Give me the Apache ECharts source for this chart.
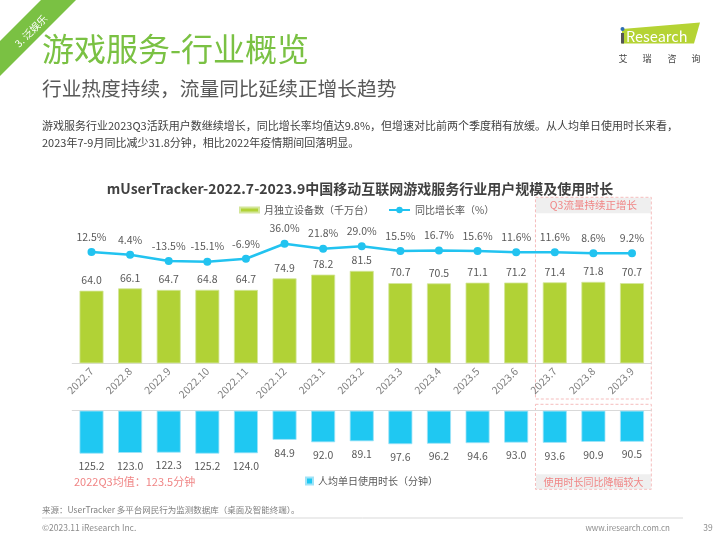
<!DOCTYPE html>
<html><head><meta charset="utf-8">
<script src="https://cdn.jsdelivr.net/npm/echarts@6/dist/echarts.min.js"></script>
<style>html,body{margin:0;padding:0;background:#fff}#c{width:720px;height:540px}</style>
</head><body><div id="c"></div>
<script>
const categories = ['2022.7','2022.8','2022.9','2022.10','2022.11','2022.12','2023.1','2023.2','2023.3','2023.4','2023.5','2023.6','2023.7','2023.8','2023.9'];
const devices = [64.0,66.1,64.7,64.8,64.7,74.9,78.2,81.5,70.7,70.5,71.1,71.2,71.4,71.8,70.7];
const growth = [12.5,4.4,-13.5,-15.1,-6.9,36.0,21.8,29.0,15.5,16.7,15.6,11.6,11.6,8.6,9.2];
const minutes = [125.2,123.0,122.3,125.2,124.0,84.9,92.0,89.1,97.6,96.2,94.6,93.0,93.6,90.9,90.5];
const seriesNames = ['月独立设备数（千万台）','同比增长率（%）','人均单日使用时长（分钟）'];
const chartTitle = 'mUserTracker-2022.7-2023.9中国移动互联网游戏服务行业用户规模及使用时长';
const pageTitle = '游戏服务-行业概览';
const pageSubtitle = '行业热度持续，流量同比延续正增长趋势';
const descLines = ['游戏服务行业2023Q3活跃用户数继续增长，同比增长率均值达9.8%，但增速对比前两个季度稍有放缓。从人均单日使用时长来看，','2023年7-9月同比减少31.8分钟，相比2022年疫情期间回落明显。'];
const noteAvg = '2022Q3均值：123.5分钟';
const boxTopText = 'Q3流量持续正增长';
const boxBottomText = '使用时长同比降幅较大';
const sourceText = '来源：UserTracker 多平台网民行为监测数据库（桌面及智能终端）。';

const FONT = "'Microsoft YaHei','Noto Sans CJK SC','Noto Sans',sans-serif";
const GREEN = '#B1D236', BLUE = '#1FC8F2', LINE = '#22C3F0', PINK = '#F08585', PINKLINE = '#F5BDBD';
const gridLeft = 72.2, gridWidth = 579.1;
const band = gridWidth / categories.length;
const boxL = gridLeft + 12 * band, boxR = gridLeft + 15 * band;

const chart = echarts.init(document.getElementById('c'), null, {renderer: 'canvas'});
function txt(x, y, text, size, fill, opts) {
  opts = opts || {};
  return {type: 'text', x: x, y: y, z: 100, rotation: opts.rotation || 0,
    style: {x: 0, y: 0, text: text, fill: fill,
      font: (opts.weight || 'normal') + ' ' + size + 'px ' + FONT,
      textAlign: opts.align || 'left', align: opts.align || 'left',
      textVerticalAlign: 'middle', verticalAlign: 'middle'}};
}
const graphics = [
  {type: 'polygon', shape: {points: [[41,0],[76,0],[0,76],[0,41]]}, style: {fill: '#7AC143'}},
  txt(31, 31, '3. 泛娱乐', 10, '#fff', {rotation: Math.PI/4, align: 'center'}),
  txt(42, 49, pageTitle, 32, '#7AC143'),
  txt(42, 88.5, pageSubtitle, 19.7, '#595959'),
  txt(42, 126, descLines[0], 11, '#404040'),
  txt(42, 143, descLines[1], 11, '#404040'),
  // logo
  {type: 'polygon', shape: {points: [[622,29],[700,22.5],[694,43.5],[622,43.5]]}, style: {fill: '#B5D334'}},
  {type: 'rect', shape: {x: 621, y: 33, width: 3, height: 10.5}, style: {fill: '#555'}},
  {type: 'circle', shape: {cx: 622.5, cy: 29, r: 2}, style: {fill: '#2E6DB4'}},
  txt(626, 36, 'Research', 14.5, '#fff'),
  txt(623, 59, '艾', 9, '#444', {align: 'center'}),
  txt(647, 59, '瑞', 9, '#444', {align: 'center'}),
  txt(672, 59, '咨', 9, '#444', {align: 'center'}),
  txt(696, 59, '询', 9, '#444', {align: 'center'}),
  // highlight boxes
  {type: 'rect', shape: {x: boxL + 0.5, y: 197.8, width: boxR - boxL - 1, height: 15.5}, style: {fill: '#EFEFEF'}},
  {type: 'rect', shape: {x: boxL, y: 197.3, width: boxR - boxL, height: 201.7}, style: {fill: null, stroke: PINKLINE, lineWidth: 1, lineDash: [3, 2]}},
  txt((boxL + boxR) / 2, 205.5, boxTopText, 10.5, PINK, {align: 'center'}),
  {type: 'rect', shape: {x: boxL + 0.5, y: 474.3, width: boxR - boxL - 1, height: 15}, style: {fill: '#EFEFEF'}},
  {type: 'rect', shape: {x: boxL, y: 404.3, width: boxR - boxL, height: 85}, style: {fill: null, stroke: PINKLINE, lineWidth: 1, lineDash: [3, 2]}},
  txt((boxL + boxR) / 2, 482, boxBottomText, 10, PINK, {align: 'center'}),
  txt(74, 482.3, noteAvg, 11, PINK),
  // footer
  txt(42, 510, sourceText, 8.5, '#7F7F7F'),
  {type: 'line', shape: {x1: 42, y1: 518, x2: 683, y2: 518}, style: {stroke: '#D9D9D9', lineWidth: 1}},
  txt(42, 528, '©2023.11 iResearch Inc.', 8.5, '#8C8C8C'),
  txt(670, 528, 'www.iresearch.com.cn', 8, '#8C8C8C', {align: 'right'}),
  txt(708, 528, '39', 8.5, '#8C8C8C', {align: 'center'})
];

const labelStyle = {color: '#595959', fontSize: 10.5, fontFamily: FONT};
const option = {
  animation: false,
  textStyle: {fontFamily: FONT},
  title: {text: chartTitle, left: 'center', top: 182, padding: 0,
    textStyle: {fontSize: 14, fontWeight: 'bold', color: '#404040', fontFamily: FONT}},
  legend: [
    {data: [seriesNames[0]], left: 239, top: 205, padding: 0, icon: 'rect', itemWidth: 19, itemHeight: 5,
      textStyle: {fontSize: 10, color: '#595959'}, selectedMode: false},
    {data: [seriesNames[1]], left: 388, top: 205, padding: 0, itemWidth: 21, itemHeight: 8,
      textStyle: {fontSize: 10, color: '#595959'}, selectedMode: false},
    {data: [seriesNames[2]], left: 305, top: 476, padding: 0, icon: 'rect', itemWidth: 7, itemHeight: 7,
      textStyle: {fontSize: 10, color: '#595959'}, selectedMode: false}
  ],
  grid: [
    {left: gridLeft, width: gridWidth, top: 249.9, height: 113.4, outerBoundsMode: 'none', containLabel: false},
    {left: gridLeft, width: gridWidth, top: 228.3, height: 42.1, outerBoundsMode: 'none', containLabel: false},
    {left: gridLeft, width: gridWidth, top: 410.7, height: 68.6, outerBoundsMode: 'none', containLabel: false}
  ],
  xAxis: [
    {type: 'category', gridIndex: 0, data: categories, axisTick: {show: false},
      axisLine: {lineStyle: {color: '#D9D9D9', width: 1}},
      axisLabel: {rotate: 45, interval: 0, margin: 6, color: '#7F7F7F', fontSize: 10.5, fontFamily: FONT}},
    {type: 'category', gridIndex: 1, data: categories, show: false},
    {type: 'category', gridIndex: 2, data: categories, position: 'top', axisTick: {show: false},
      axisLine: {lineStyle: {color: '#D9D9D9', width: 1}}, axisLabel: {show: false}}
  ],
  yAxis: [
    {type: 'value', gridIndex: 0, min: 0, max: 100, show: false, splitLine: {show: false}},
    {type: 'value', gridIndex: 1, min: -40, max: 80, show: false, splitLine: {show: false}},
    {type: 'value', gridIndex: 2, min: 0, max: 200, inverse: true, show: false, splitLine: {show: false}}
  ],
  series: [
    {name: seriesNames[0], type: 'bar', xAxisIndex: 0, yAxisIndex: 0, data: devices, barWidth: 24,
      itemStyle: {color: GREEN, borderColor: '#D3E69A', borderWidth: 0.8},
      label: Object.assign({show: true, position: 'top', distance: 5.5, formatter: p => p.value.toFixed(1)}, labelStyle)},
    {name: seriesNames[1], type: 'line', xAxisIndex: 1, yAxisIndex: 1, data: growth, clip: false,
      symbol: 'circle', symbolSize: 8, lineStyle: {color: LINE, width: 2.5}, itemStyle: {color: LINE},
      label: Object.assign({show: true, position: 'top', distance: 6, formatter: p => p.value.toFixed(1) + '%'}, labelStyle)},
    {name: seriesNames[2], type: 'bar', xAxisIndex: 2, yAxisIndex: 2, data: minutes, barWidth: 24,
      itemStyle: {color: BLUE, borderColor: '#9FE3F7', borderWidth: 0.8},
      label: Object.assign({show: true, position: 'bottom', distance: 7.5, formatter: p => p.value.toFixed(1)}, labelStyle)}
  ],
  graphic: graphics
};
chart.setOption(option);
</script></body></html>
